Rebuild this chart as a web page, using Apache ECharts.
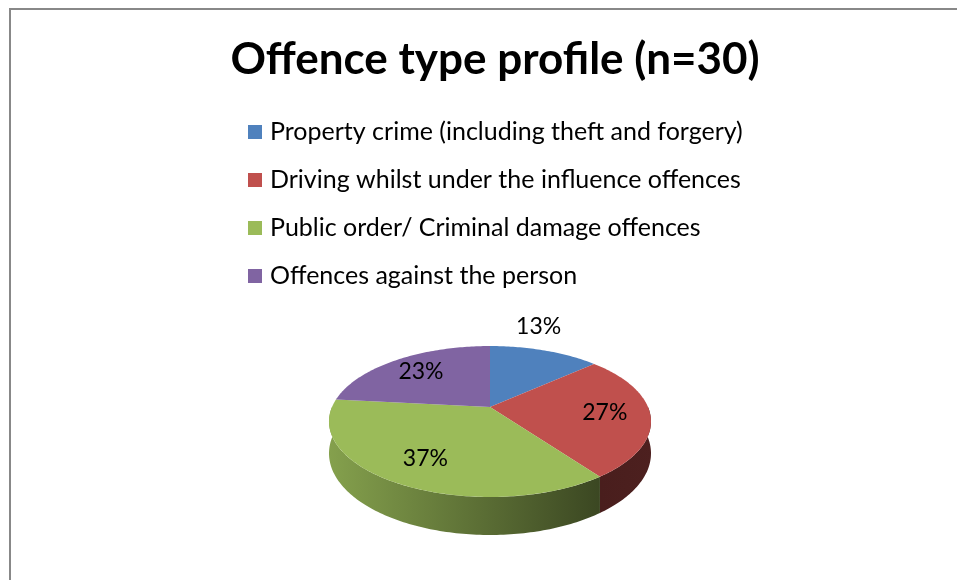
<!DOCTYPE html>
<html>
<head>
<meta charset="utf-8">
<script src="https://cdn.jsdelivr.net/npm/echarts@6/dist/echarts.min.js"></script>
<style>
  html, body { margin: 0; padding: 0; background: #fff; }
  #main { width: 957px; height: 580px; }
</style>
</head>
<body>
<div id="main"></div>
<script>
// 数据
const categories = [
    'Property crime (including theft and forgery)',
    'Driving whilst under the influence offences',
    'Public order/ Criminal damage offences',
    'Offences against the person'
];
const counts = [4, 8, 11, 7];
const total = 30;

const colors = ['#4f81bd', '#c0504d', '#9bbb59', '#8064a2'];

// 3D饼图的透视参数
const CX = 490, CY = 407, RX = 158, RY = 72.7, K = 0.192, DEPTH = 30.7;

function proj(phi, r, drop) {
    let u = r * Math.sin(phi), v = r * Math.cos(phi);
    let d = 1 + K * v;
    return [CX + RX * u / d, CY - RY * v / d + drop / d];
}

function shade(hex, f) {
    let n = parseInt(hex.slice(1), 16);
    let r = Math.round(((n >> 16) & 255) * f);
    let g = Math.round(((n >> 8) & 255) * f);
    let b = Math.round((n & 255) * f);
    return 'rgb(' + r + ',' + g + ',' + b + ')';
}

function arc(a0, a1, r, drop) {
    let pts = [];
    let steps = Math.max(2, Math.ceil((a1 - a0) / (Math.PI / 180)));
    for (let i = 0; i <= steps; i++) {
        pts.push(proj(a0 + (a1 - a0) * i / steps, r, drop));
    }
    return pts;
}

let starts = [];
let acc = 0;
counts.forEach(v => { starts.push(acc); acc += v; });

function renderSlice(params, api) {
    let i = params.dataIndex;
    let a0 = starts[i] / total * Math.PI * 2;
    let a1 = (starts[i] + counts[i]) / total * Math.PI * 2;
    let children = [];

    // 侧面（只画前半部分）
    let s0 = Math.max(a0, Math.PI / 2), s1 = Math.min(a1, Math.PI * 1.5);
    if (s1 > s0) {
        let top = arc(s0, s1, 1, 0);
        let bottom = arc(s0, s1, 1, DEPTH).reverse();
        let x0 = CX - RX - 5, x1 = CX + RX + 5;
        children.push({
            type: 'polygon',
            z2: 0,
            shape: { points: top.concat(bottom) },
            style: {
                fill: {
                    type: 'linear', x: x0, y: 0, x2: x1, y2: 0, global: true,
                    colorStops: [
                        { offset: 0, color: shade(colors[i], 0.86) },
                        { offset: (600 - x0) / (x1 - x0), color: shade(colors[i], 0.38) },
                        { offset: 1, color: shade(colors[i], 0.4) }
                    ]
                }
            }
        });
    }

    // 顶面
    children.push({
        type: 'polygon',
        z2: 10,
        shape: { points: [proj(0, 0, 0)].concat(arc(a0, a1, 1, 0)) },
        style: { fill: colors[i] }
    });

    // 百分比标签
    let mid = (a0 + a1) / 2;
    let pct = Math.round(counts[i] / total * 100) + '%';
    let outside = counts[i] / total < 0.15;
    let p = outside ? proj(mid, 1, 0) : proj(mid, 0.72, 0);
    children.push({
        type: 'text',
        z2: 20,
        style: {
            text: pct,
            x: outside ? p[0] - 6 : p[0],
            y: outside ? p[1] - 12 : p[1],
            fill: '#000',
            font: '23px Lato',
            align: 'center',
            verticalAlign: outside ? 'bottom' : 'middle'
        }
    });

    return { type: 'group', children: children };
}

var myChart = echarts.init(document.getElementById('main'));

var option = {
    backgroundColor: '#fff',
    color: colors,
    animation: false,
    title: {
        text: 'Offence type profile (n=30)',
        left: 490,
        textAlign: 'center',
        top: 33,
        textStyle: {
            fontFamily: 'Lato',
            fontWeight: 'bold',
            fontSize: 44,
            color: '#000'
        }
    },
    legend: {
        orient: 'vertical',
        left: 243,
        top: 113,
        icon: 'rect',
        itemWidth: 14,
        itemHeight: 14,
        itemGap: 20,
        selectedMode: false,
        data: categories,
        textStyle: {
            fontFamily: 'Lato',
            fontSize: 25,
            lineHeight: 28,
            color: '#000',
            padding: [0, 0, 0, 3]
        }
    },
    graphic: [{
        type: 'rect',
        shape: { x: 10, y: 9, width: 1000, height: 1000 },
        style: { fill: 'none', stroke: '#888', lineWidth: 2 }
    }],
    series: [
        {
            // 只用于图例
            name: 'legend',
            type: 'pie',
            center: [-100, -100],
            radius: [0, 1],
            silent: true,
            label: { show: false },
            labelLine: { show: false },
            data: categories.map((c, i) => ({ name: c, value: counts[i] }))
        },
        {
            name: 'Offence type',
            type: 'custom',
            coordinateSystem: 'none',
            renderItem: renderSlice,
            data: counts.map((v, i) => ({ name: categories[i], value: v }))
        }
    ]
};

myChart.setOption(option);
</script>
</body>
</html>
